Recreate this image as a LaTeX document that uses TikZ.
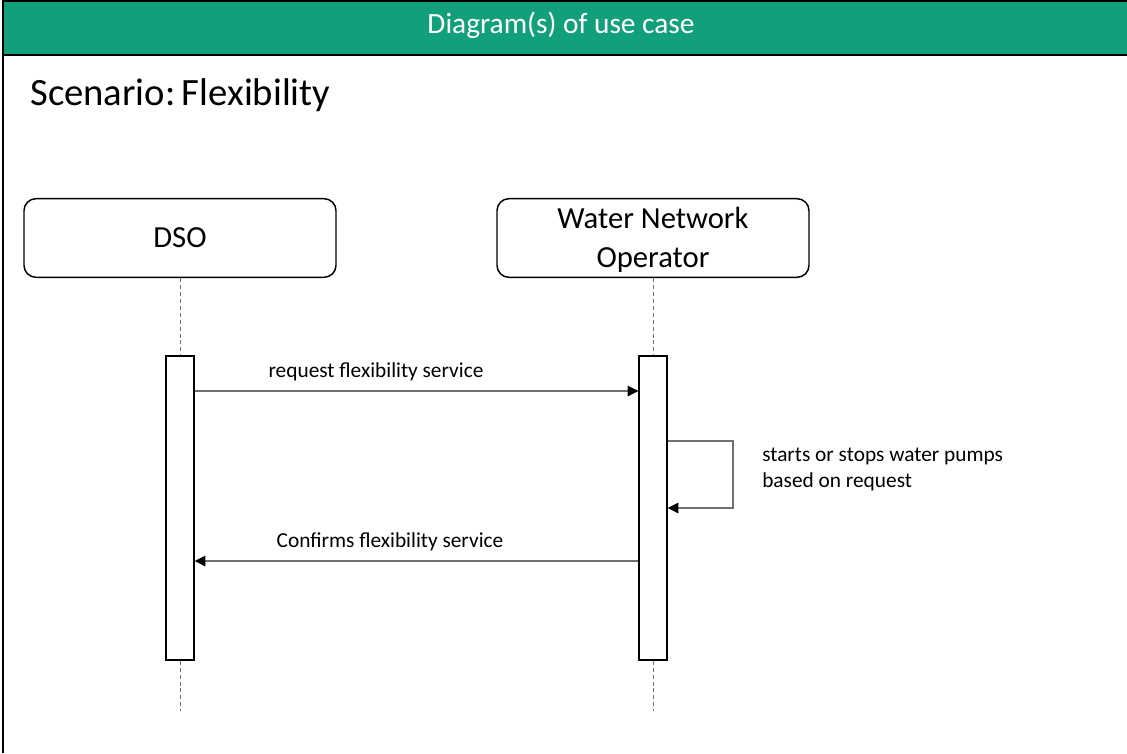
\documentclass[tikz,border=0pt]{standalone}
\usepackage{fontspec}
\setmainfont{Carlito}
\usetikzlibrary{arrows.meta,calc}
\definecolor{hdrgreen}{HTML}{12A07C}
\definecolor{msggray}{HTML}{707070}
\begin{document}
\begin{tikzpicture}[x=0.75pt,y=-0.75pt,
  actor/.style={draw=black,line width=1.1pt,rounded corners=9pt,fill=white,
    minimum width=234pt,minimum height=59pt,inner sep=0pt,align=center,
    font=\fontsize{23}{29}\selectfont},
  actbar/.style={draw=black,line width=1.1pt,fill=white,minimum width=21pt,
    minimum height=228pt,inner sep=0pt},
  lifeline/.style={draw=msggray,line width=0.6pt,dash pattern=on 3pt off 2.2pt},
  msg/.style={draw=msggray,line width=0.8pt,
    arrows={-{Triangle[length=8pt,width=8pt,color=black]}}},
  msglabel/.style={font=\fontsize{16}{19.5}\selectfont,inner sep=0pt}]
\useasboundingbox (0,0) rectangle (1127,753);
% frame and title bar
\fill[hdrgreen] (3,1) rectangle (1127,55);
\draw[black,line width=1.5pt] (3,753) -- (3,1) -- (1127,1);
\draw[black,line width=1.5pt] (3,55) -- (1127,55);
\node[text=white,font=\fontsize{22}{26}\selectfont] (hdr) at (561,25) {Diagram(s) of use case};
\node[anchor=west,font=\fontsize{29}{34}\selectfont,inner sep=0pt] (scen) at (30,95) {Scenario:\,Flexibility};
% participants
\node[actor] (dso) at (180,238) {DSO};
\node[actor] (wno) at (653,238) {};
\node[font=\fontsize{23}{29}\selectfont,align=center,inner sep=0pt] (wnotext) at (653,240) {Water Network\\Operator};
% activation bars
\node[actbar] (dsoact) at (180,508) {};
\node[actbar] (wnoact) at (653,508) {};
% lifelines
\coordinate (dsoend) at (180,711);
\coordinate (wnoend) at (653,711);
\draw[lifeline] (dso.south) -- (dsoact.north);
\draw[lifeline] (dsoact.south) -- (dsoend);
\draw[lifeline] (wno.south) -- (wnoact.north);
\draw[lifeline] (wnoact.south) -- (wnoend);
% messages
\coordinate (m1) at (0,391);
\coordinate (m3) at (0,561);
\draw[msg] (dsoact.east |- m1) -- (wnoact.west |- m1);
\node[msglabel] (l1) at (376,372) {request flexibility service};
\draw[msg] (wnoact.east |- 0,441) -- (733,441) -- (733,508) -- (wnoact.east |- 0,508);
\node[msglabel,anchor=west,align=left] (l2) at (762,469)
  {starts or stops water pumps\\based on request};
\draw[msg] (wnoact.west |- m3) -- (dsoact.east |- m3);
\node[msglabel] (l3) at (390,542) {Confirms flexibility service};
\end{tikzpicture}
\end{document}
